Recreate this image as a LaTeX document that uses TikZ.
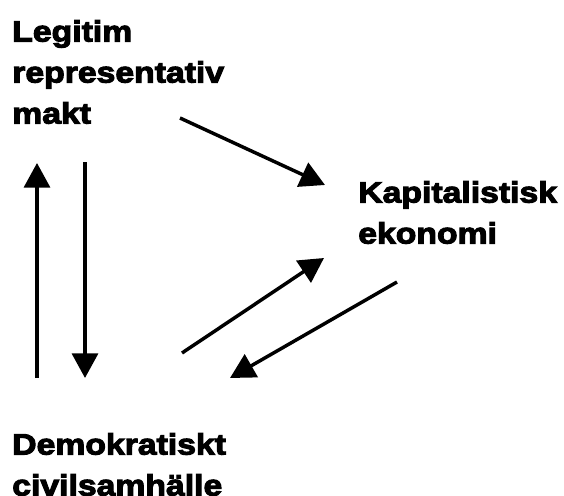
\documentclass[tikz,border=0pt]{standalone}
\usepackage{fontspec}
\setmainfont{Liberation Sans}[BoldFeatures={FakeBold=3.6, FakeStretch=1.15}]
\usetikzlibrary{arrows.meta}

\begin{document}
\begin{tikzpicture}[x=0.75pt, y=-0.75pt]

	\tikzstyle{titre}=[anchor=north west, inner sep=0pt, align=left, font=\fontsize{22}{30.75}\selectfont\bfseries]
	\tikzstyle{fleche}=[-{Triangle[length=18.5pt, width=19.5pt]}, line width=2.6pt, black]

	\useasboundingbox (0,0) rectangle (564,496);

	% placement des noeuds
	\node[titre] (makt) at (12,20) {Legitim\\representativ\\makt};
	\node[titre] (eko) at (358,181) {Kapitalistisk\\ekonomi};
	\node[titre] (civil) at (12,433) {Demokratiskt\\civilsamh\"alle};

	% extremites des fleches
	\coordinate (up1) at (37,378);
	\coordinate (up2) at (37,163);
	\coordinate (dn1) at (85,162);
	\coordinate (dn2) at (85,378);
	\coordinate (me1) at (180,118);
	\coordinate (me2) at (325,185);
	\coordinate (ce1) at (182,353);
	\coordinate (ce2) at (324,258);
	\coordinate (ec1) at (397,282);
	\coordinate (ec2) at (230,378);

	\draw[fleche] (up1) -- (up2);
	\draw[fleche] (dn1) -- (dn2);
	\draw[fleche] (me1) -- (me2);
	\draw[fleche] (ce1) -- (ce2);
	\draw[fleche] (ec1) -- (ec2);

\end{tikzpicture}
\end{document}
